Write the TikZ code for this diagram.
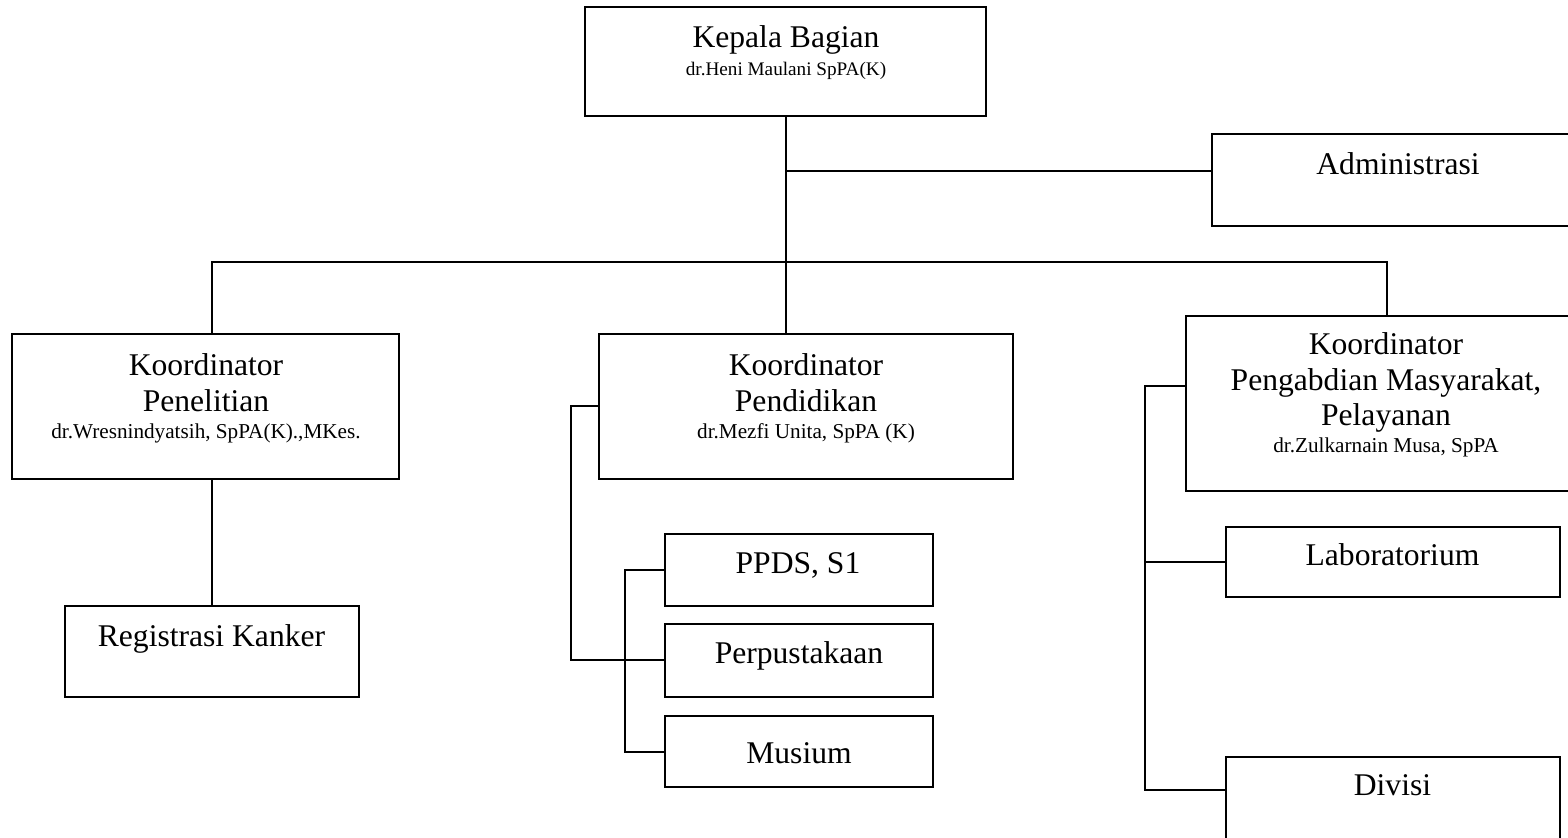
\documentclass[tikz,border=0pt]{standalone}
\usepackage{fontspec}
\setmainfont{Liberation Serif}
\begin{document}
\begin{tikzpicture}[x=0.5pt,y=-0.5pt,
  box/.style={draw,line width=1pt,rectangle,inner sep=0pt},
  conn/.style={line width=1pt,line cap=rect},
  big/.style={inner sep=0pt,anchor=base,font=\fontsize{15.8pt}{18pt}\selectfont},
  small/.style={inner sep=0pt,anchor=base,font=\fontsize{10.6pt}{12pt}\selectfont},
  tiny/.style={inner sep=0pt,anchor=base,font=\fontsize{9.6pt}{11pt}\selectfont}]
\useasboundingbox (0,0) rectangle (1568,838);
\clip (0,0) rectangle (1568,838);

% boxes
\node[box,minimum width=200.5pt,minimum height=54.5pt] (kb) at (785.5,61.5) {};
\node[box,minimum width=194pt,minimum height=46pt] (adm) at (1406,180) {};
\node[box,minimum width=193.5pt,minimum height=72.5pt] (pen) at (205.5,406.5) {};
\node[box,minimum width=147pt,minimum height=45.5pt] (reg) at (212,651.5) {};
\node[box,minimum width=207pt,minimum height=72.5pt] (pend) at (806,406.5) {};
\node[box,minimum width=134pt,minimum height=36pt] (ppds) at (799,570) {};
\node[box,minimum width=134pt,minimum height=36.5pt] (perp) at (799,660.5) {};
\node[box,minimum width=134pt,minimum height=35.5pt] (mus) at (799,751.5) {};
\node[box,minimum width=207pt,minimum height=87.5pt] (peng) at (1393,403.5) {};
\node[box,minimum width=167pt,minimum height=35pt] (lab) at (1393,562) {};
\node[box,minimum width=167pt,minimum height=56.5pt] (div) at (1393,813.5) {};

% texts
\node[big] (kb-t1) at (786,48) {Kepala Bagian};
\node[tiny] (kb-t2) at (786,76) {dr.Heni Maulani SpPA(K)};
\node[big] (adm-t) at (1398,175) {Administrasi};
\node[big] (pen-t1) at (206,375.5) {Koordinator};
\node[big] (pen-t2) at (206,412) {Penelitian};
\node[small] (pen-t3) at (206,438.3) {dr.Wresnindyatsih, SpPA(K).,MKes.};
\node[big] (reg-t) at (211.5,646.7) {Registrasi Kanker};
\node[big] (pend-t1) at (806,375.5) {Koordinator};
\node[big] (pend-t2) at (806,412) {Pendidikan};
\node[small] (pend-t3) at (806,438.3) {dr.Mezfi Unita, SpPA (K)};
\node[big] (ppds-t) at (798,573.3) {PPDS, S1};
\node[big] (perp-t) at (799,663.3) {Perpustakaan};
\node[big] (mus-t) at (799,763.3) {Musium};
\node[big] (peng-t1) at (1386,355) {Koordinator};
\node[big] (peng-t2) at (1386,390.7) {Pengabdian Masyarakat,};
\node[big] (peng-t3) at (1386,426) {Pelayanan};
\node[small] (peng-t4) at (1386,452.7) {dr.Zulkarnain Musa, SpPA};
\node[big] (lab-t) at (1392.5,566) {Laboratorium};
\node[big] (div-t) at (1392.5,795) {Divisi};

% connectors
\coordinate (barL) at (212,262);
\coordinate (barR) at (1387,262);
\draw[conn] (kb.south) -- (kb.south |- pend.north);
\draw[conn] (kb.south |- adm.west) ++(0,-9) -- ([yshift=4.5pt]adm.west);
\draw[conn] (barL |- pen.north) -- (barL) -- (barR) -- (barR |- peng.north);
\draw[conn] (reg.north |- pen.south) -- (reg.north);
\draw[conn] (pend.west) -- ++(-27,0) |- (perp.west);
\draw[conn] (ppds.west) -- ++(-39,0) |- (mus.west);
\draw[conn] ([yshift=8.75pt]peng.west) -- ++(-40,0) |- ([yshift=-17pt]div.north west);
\draw[conn] (lab.west) -- ++(-80,0);
\end{tikzpicture}
\end{document}
